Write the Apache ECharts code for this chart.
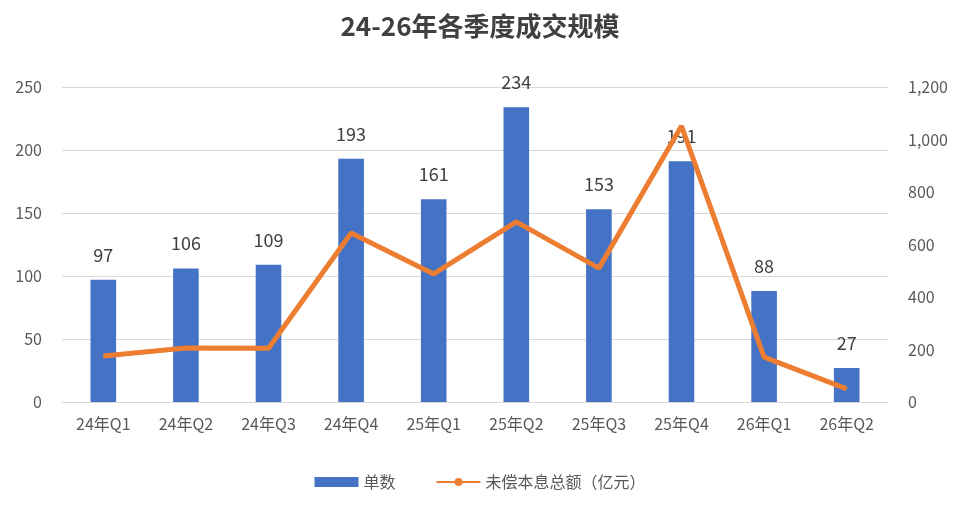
<!DOCTYPE html>
<html><head><meta charset="utf-8">
<script src="https://cdn.jsdelivr.net/npm/echarts@6/dist/echarts.min.js"></script>
<style>html,body{margin:0;padding:0;background:#fff}#c{width:960px;height:509px}</style>
</head><body><div id="c"></div>
<script>
const categories = ['24年Q1','24年Q2','24年Q3','24年Q4','25年Q1','25年Q2','25年Q3','25年Q4','26年Q1','26年Q2'];
const counts = [97,106,109,193,161,234,153,191,88,27];
const amounts = [175,206,205,644,488,686,510,1051,171,50];
const chart = echarts.init(document.getElementById('c'));
const f = '"Noto Sans CJK SC","Noto Sans",sans-serif';
chart.setOption({
  animation:false,
  textStyle:{fontFamily:f},
  title:{text:'24-26年各季度成交规模',left:'center',top:8,textStyle:{fontSize:26,fontWeight:'bold',color:'#404040',fontFamily:f}},
  legend:{bottom:14,itemGap:40,textStyle:{fontSize:16,color:'#595959'},data:[{name:'单数',icon:'rect'},{name:'未偿本息总额（亿元）'}],itemWidth:44,itemHeight:10},
  grid:{left:62,right:72,top:87,bottom:107},
  xAxis:{type:'category',data:categories,axisTick:{show:false},axisLine:{lineStyle:{color:'#d9d9d9'}},axisLabel:{fontSize:16,color:'#595959',margin:14}},
  yAxis:[
    {type:'value',min:0,max:250,interval:50,axisLabel:{fontSize:16,color:'#595959',margin:20},splitLine:{lineStyle:{color:'#d9d9d9'}}},
    {type:'value',min:0,max:1200,interval:200,axisLabel:{fontSize:16,color:'#595959',margin:20},splitLine:{show:false}}
  ],
  series:[
    {name:'单数',type:'bar',data:counts,barWidth:'31%',itemStyle:{color:'#4472c4'},label:{show:true,position:'top',distance:16,fontSize:18,color:'#404040'}},
    {name:'未偿本息总额（亿元）',type:'line',yAxisIndex:1,data:amounts,symbol:'none',lineStyle:{width:5,color:'#ed7d31'},itemStyle:{color:'#ed7d31'}}
  ]
});
</script></body></html>
